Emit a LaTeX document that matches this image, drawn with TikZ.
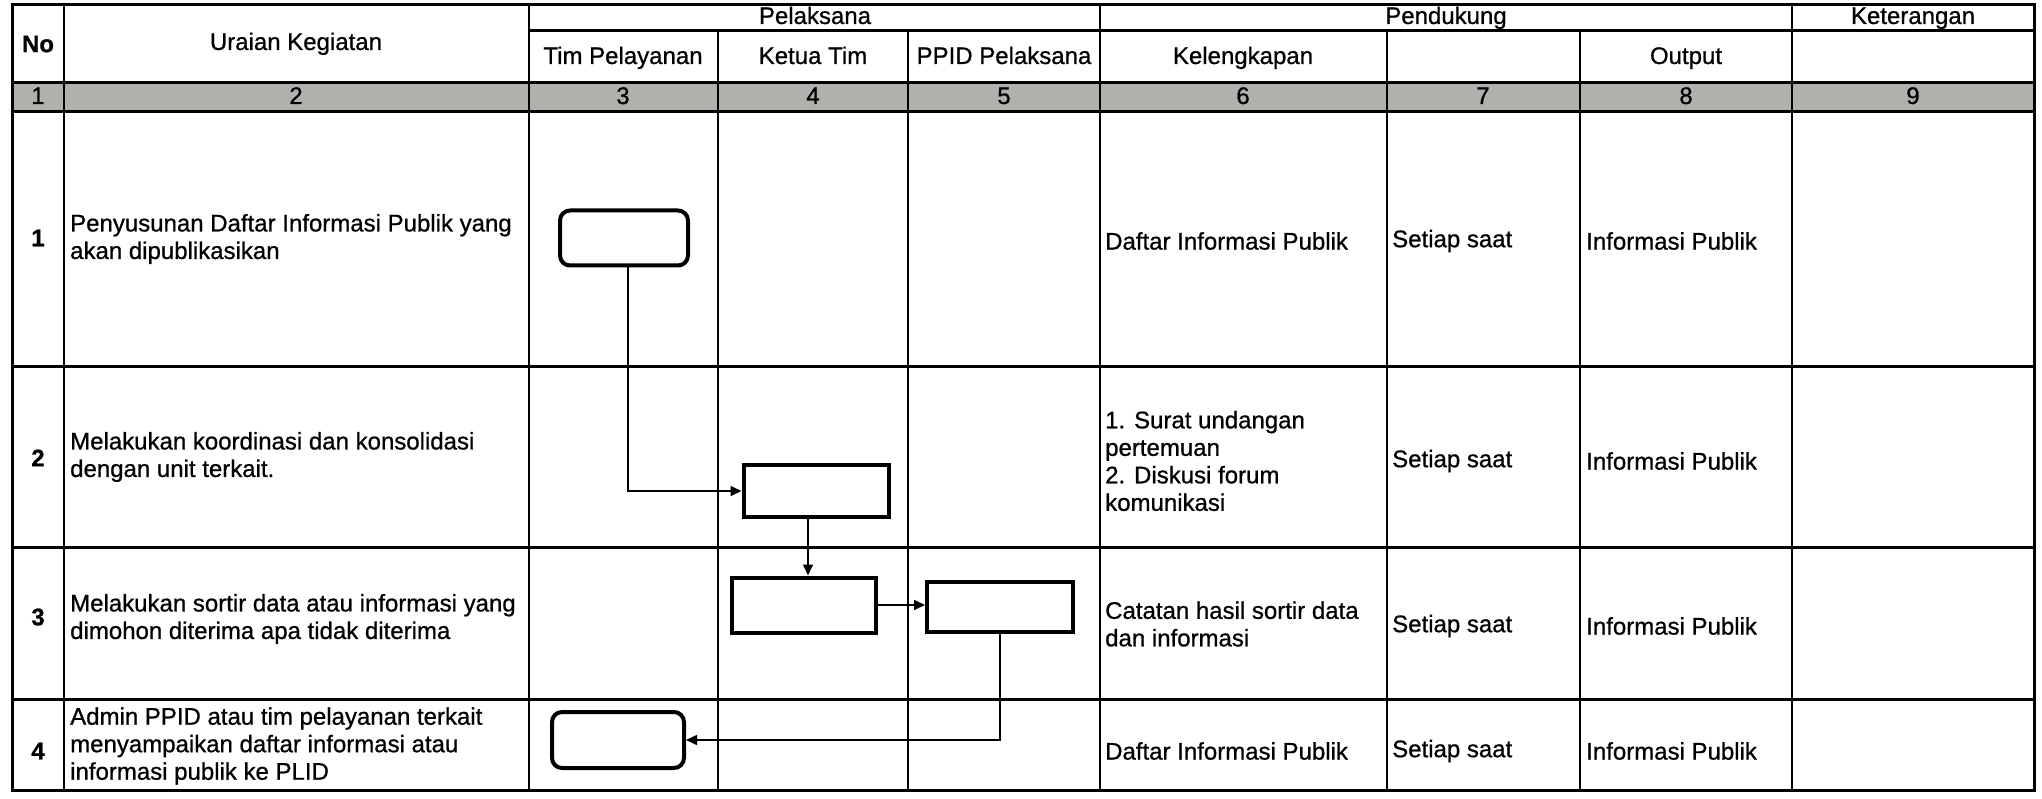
\documentclass[tikz,border=0pt]{standalone}
\usepackage{fontspec}
\setmainfont{Liberation Sans}[FakeBold=0.8]
\usetikzlibrary{arrows.meta, positioning}
\definecolor{bandgray}{RGB}{176,176,172}

\begin{document}
\begin{tikzpicture}[x=1pt, y=-1pt,
  font=\fontsize{24}{27.5}\selectfont,
  vline/.style={line width=2pt},
  hline/.style={line width=3pt},
  actbox/.style={rectangle, draw, line width=4pt, minimum width=145pt, minimum height=52pt},
  startbox/.style={actbox, rounded corners=10pt, minimum width=128pt, minimum height=55pt},
  head/.style={anchor=center, align=center, inner sep=0pt, text height=17pt, text depth=5pt},
  cell/.style={anchor=west, align=left, inner sep=0pt},
  rowno/.style={anchor=center, inner sep=0pt, font=\fontsize{24}{27.5}\selectfont\bfseries},
  arr/.style={-{Triangle[length=11pt,width=10pt]}, line width=1.6pt}
]
  \useasboundingbox (0,0) rectangle (2042,799);

  % grid
  \fill[bandgray] (12,83) rectangle (2034,112);
  \draw[hline] (12,5) rectangle (2034,790);
  \draw[hline] (529,31) -- (2034,31);
  \foreach \y in {83,112,367,547,699}
    \draw[hline] (12,\y) -- (2034,\y);
  \foreach \x in {64,529,1100,1792}
    \draw[vline] (\x,5) -- (\x,790);
  \foreach \x in {718,908,1387,1580}
    \draw[vline] (\x,31) -- (\x,790);

  % header
  \node[rowno] (hno) at (38,44) {No};
  \node[head] (hurai) at (296,44) {Uraian Kegiatan};
  \node[head] (hpel) at (815,18) {Pelaksana};
  \node[head] (htim) at (623,58) {Tim Pelayanan};
  \node[head] (hketua) at (813,58) {Ketua Tim};
  \node[head] (hppid) at (1004,58) {PPID Pelaksana};
  \node[head] (hpend) at (1446,18) {Pendukung};
  \node[head] (hkel) at (1243,58) {Kelengkapan};
  \node[head] (hout) at (1686,58) {Output};
  \node[head] (hket) at (1913,18) {Keterangan};
  \foreach \x/\n in {38/1, 296/2, 623/3, 813/4, 1004/5, 1243/6, 1483/7, 1686/8, 1913/9}
    \node[head] (num\n) at (\x,98) {\n};

  % rows
  \foreach \r/\y/\v in {1/238/241, 2/458/461, 3/617/626, 4/751/751} {
    \node[rowno] (no\r) at (38,\y) {\r};
    \node[cell] (wkt\r) at (1392,\v) {Setiap saat};
    \node[cell] (out\r) at (1586,\v) {Informasi Publik};
  }
  \node[cell] (act1) at (70,239) {Penyusunan Daftar Informasi Publik yang\\akan dipublikasikan};
  \node[cell] (act2) at (70,457) {Melakukan koordinasi dan konsolidasi\\dengan unit terkait.};
  \node[cell] (act3) at (70,619) {Melakukan sortir data atau informasi yang\\dimohon diterima apa tidak diterima};
  \node[cell] (act4) at (70,746) {Admin PPID atau tim pelayanan terkait\\menyampaikan daftar informasi atau\\informasi publik ke PLID};
  \node[cell] (kel1) at (1105,241) {Daftar Informasi Publik};
  \node[cell] (kel2) at (1105,461) {1. Surat undangan\\pertemuan\\2. Diskusi forum\\komunikasi};
  \node[cell] (kel3) at (1105,624) {Catatan hasil sortir data\\dan informasi};
  \node[cell] (kel4) at (1105,751) {Daftar Informasi Publik};

  % flow
  \node[startbox] (susun) at (624,238) {};
  \node[actbox] (koord) at (816,491) {};
  \node[actbox, minimum width=144pt, minimum height=55pt] (sortir) at (804,605) {};
  \node[actbox, minimum width=146pt, minimum height=50pt] (terima) at (1000,607) {};
  \node[startbox, minimum width=132pt, minimum height=56pt] (kirim) at (618,740) {};
  \draw[arr] ([xshift=4pt]susun.south) |- (koord.west);
  \draw[arr] ([xshift=4pt]sortir.north |- koord.south) -- ([xshift=4pt]sortir.north);
  \draw[arr] (sortir.east) -- (sortir.east -| terima.west);
  \draw[arr] (terima.south) |- (kirim.east);
\end{tikzpicture}
\end{document}
